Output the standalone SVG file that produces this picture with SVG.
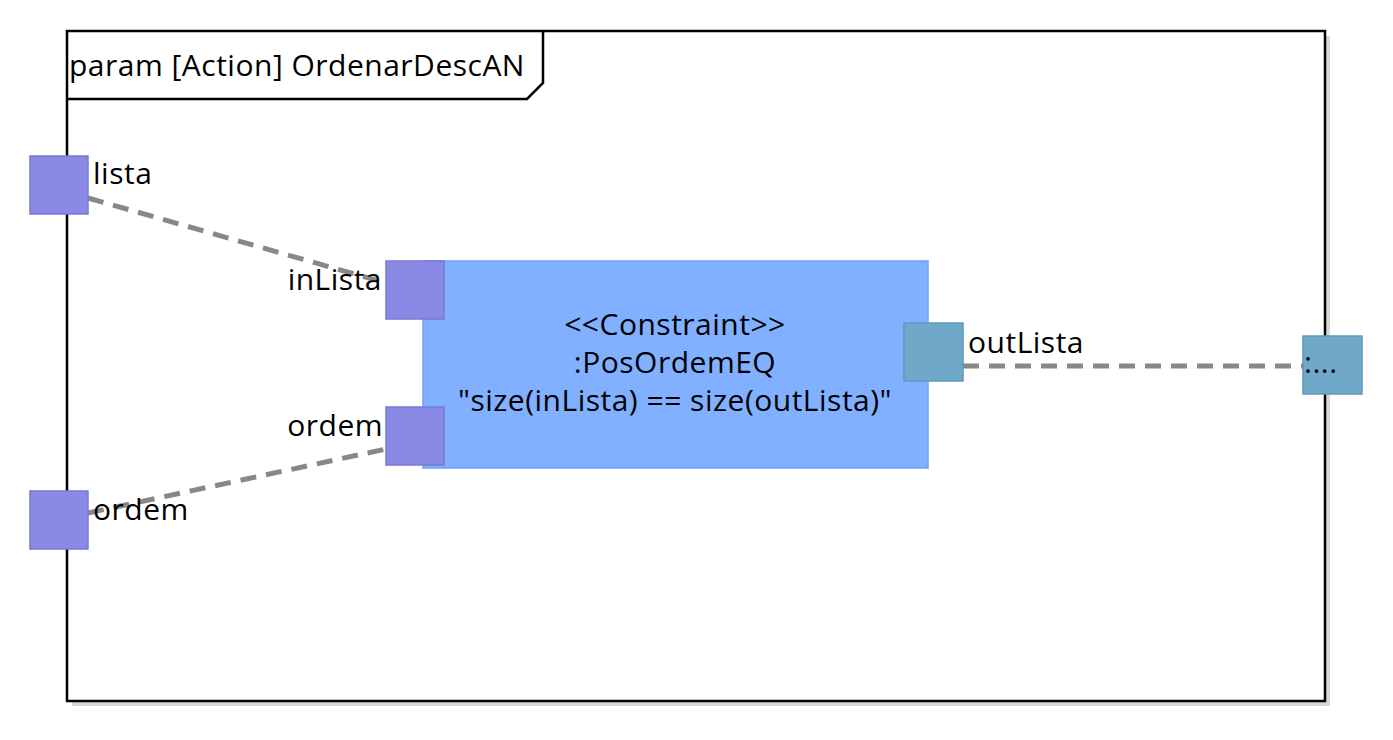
<svg xmlns="http://www.w3.org/2000/svg" width="1393" height="740" viewBox="0 0 1393 740">
<style>
text{font-family:"Open Sans","DejaVu Sans",sans-serif;font-size:30px;letter-spacing:0.5px;fill:#000}
.port{fill:#8a8ae6;stroke:#7a7ad0;stroke-width:1.5}
.port2{fill:#6fa8c8;stroke:#5f98b8;stroke-width:1.5}
.conn{stroke:#888;stroke-width:5;stroke-dasharray:16 10;fill:none}
</style>
<g id="frame">
<rect x="72" y="36" width="1258" height="670" fill="#d8d8d8"/>
<rect x="67" y="31" width="1258" height="670" fill="#fff" stroke="#000" stroke-width="2.5"/>
<path d="M67,99 H527 L543,83 V31" fill="none" stroke="#000" stroke-width="2.5"/>
<text x="69" y="76">param [Action] OrdenarDescAN</text>
</g>
<g id="connectors">
<line class="conn" x1="88" y1="198" x2="386" y2="283"/>
<line class="conn" x1="88" y1="513" x2="386" y2="449"/>
<line class="conn" x1="963" y1="366" x2="1303" y2="366"/>
</g>
<g id="constraint">
<rect x="423" y="261" width="505" height="207" fill="#80b0ff" stroke="#70a0ee" stroke-width="1.5"/>
<text x="675" y="335" text-anchor="middle">&lt;&lt;Constraint&gt;&gt;</text>
<text x="675" y="373" text-anchor="middle">:PosOrdemEQ</text>
<text x="675" y="411" text-anchor="middle">"size(inLista) == size(outLista)"</text>
</g>
<g id="port-lista">
<rect class="port" x="30" y="156" width="58" height="58"/>
<text x="93" y="184">lista</text>
</g>
<g id="port-ordem-outer">
<rect class="port" x="30" y="491" width="58" height="58"/>
<text x="93" y="520">ordem</text>
</g>
<g id="port-inLista">
<rect class="port" x="386" y="261" width="58" height="58"/>
<text x="382" y="290" text-anchor="end">inLista</text>
</g>
<g id="port-ordem-inner">
<rect class="port" x="386" y="407" width="58" height="58"/>
<text x="383" y="436" text-anchor="end">ordem</text>
</g>
<g id="port-outLista">
<rect class="port2" x="904" y="323" width="59" height="58"/>
<text x="968" y="353">outLista</text>
</g>
<g id="port-out">
<rect class="port2" x="1303" y="336" width="59" height="58"/>
<text x="1304" y="373">:...</text>
</g>
</svg>
